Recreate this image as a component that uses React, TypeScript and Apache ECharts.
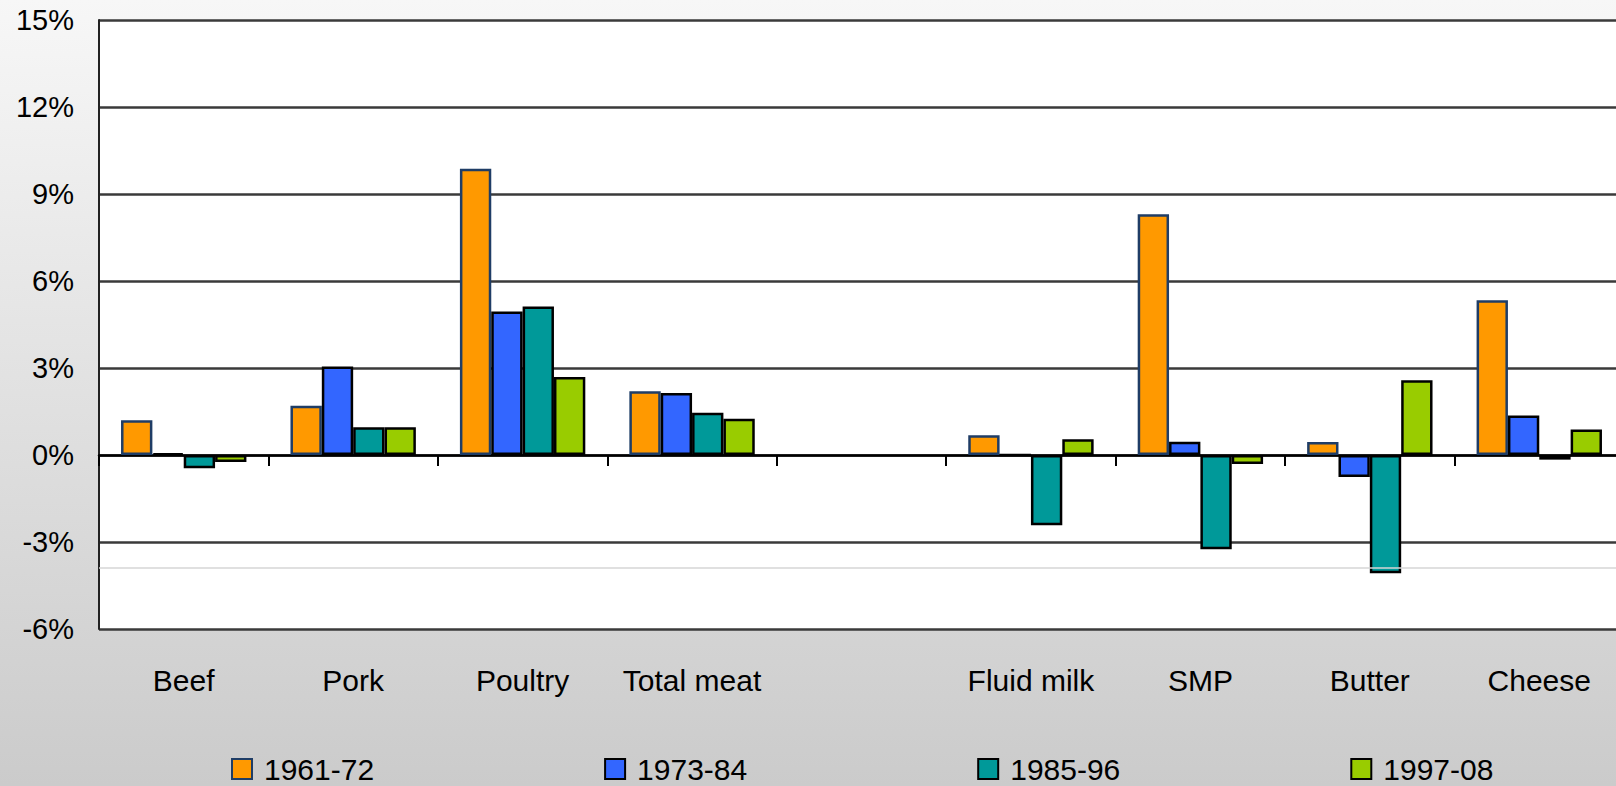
import React, { useEffect, useRef } from "react";
import * as echarts from "echarts";

// Product groups; the empty slot separates meat from dairy.
const categories = ["Beef", "Pork", "Poultry", "Total meat", "", "Fluid milk", "SMP", "Butter", "Cheese"];
const periods = ["1961-72", "1973-84", "1985-96", "1997-08"];

// Average annual growth rates (%) by period
const growth1961 = [1.2, 1.7, 9.87, 2.2, null, 0.68, 8.3, 0.45, 5.34];
const growth1973 = [0.06, 3.05, 4.95, 2.14, null, 0, 0.46, -0.76, 1.36];
const growth1985 = [-0.46, 0.96, 5.12, 1.46, null, -2.42, -3.25, -4.08, -0.16];
const growth1997 = [-0.24, 0.96, 2.69, 1.25, null, 0.54, -0.31, 2.58, 0.88];

const yTicks = { min: -6, max: 15, interval: 3 };
const faintLineValue = -3.9;

const seriesValues = [growth1961, growth1973, growth1985, growth1997];
const fills = ["#FF9900", "#3366FF", "#009999", "#99CC00"];
const borders = ["#1F3D66", "#000000", "#000000", "#000000"];

const FONT = "'Liberation Sans', Arial, sans-serif";

export default function App() {
  const ref = useRef<HTMLDivElement>(null);

  useEffect(() => {
    if (!ref.current) return;
    const chart = echarts.init(ref.current, undefined, { renderer: "svg" });

    const series = periods.map((name, i) => ({
      name,
      type: "bar",
      xAxisIndex: 0,
      data: seriesValues[i],
      barGap: "0%",
      barCategoryGap: "26%",
      itemStyle: { color: fills[i], borderColor: borders[i], borderWidth: 2.5 },
      ...(i === 2
        ? {
            markLine: {
              silent: true,
              symbol: "none",
              label: { show: false },
              lineStyle: { color: "#d6d6d6", width: 1.5, type: "solid" },
              data: [{ yAxis: faintLineValue }],
            },
          }
        : {}),
    }));

    chart.setOption({
      animation: false,
      backgroundColor: {
        type: "linear",
        x: 0,
        y: 0,
        x2: 0,
        y2: 1,
        colorStops: [
          { offset: 0, color: "#f7f7f7" },
          { offset: 1, color: "#cbcbcb" },
        ],
      },
      // The plot area runs slightly past the visible right edge.
      grid: {
        left: 99,
        right: 0,
        top: 20,
        bottom: 157,
        show: true,
        backgroundColor: "#ffffff",
        borderWidth: 0,
      },
      legend: {
        data: periods,
        left: 226,
        top: 749,
        icon: "rect",
        itemWidth: 20,
        itemHeight: 20,
        itemGap: 230,
        textStyle: { fontSize: 30, color: "#000", fontFamily: FONT, padding: [0, 0, 0, 7] },
      },
      xAxis: [
        {
          type: "category",
          data: categories,
          position: "bottom",
          axisLine: { onZero: true, lineStyle: { color: "#000", width: 2.5 } },
          axisTick: { show: true, length: 11, lineStyle: { color: "#000", width: 2 } },
          axisLabel: { show: false },
        },
        {
          type: "category",
          data: categories,
          position: "bottom",
          axisLine: { show: false, onZero: false },
          axisTick: { show: false },
          axisLabel: {
            show: true,
            interval: 0,
            margin: 36,
            fontSize: 30,
            color: "#000",
            fontFamily: FONT,
          },
        },
      ],
      yAxis: {
        type: "value",
        min: yTicks.min,
        max: yTicks.max,
        interval: yTicks.interval,
        axisLine: { show: true, lineStyle: { color: "#222", width: 2 } },
        axisTick: { show: false },
        axisLabel: {
          margin: 25,
          fontSize: 29,
          color: "#000",
          fontFamily: FONT,
          formatter: (v: number) => `${v}%`,
        },
        splitLine: { show: true, lineStyle: { color: "#3a3a3a", width: 2.5 } },
      },
      series,
    });

    return () => chart.dispose();
  }, []);

  return (
    <div
      style={{
        position: "absolute",
        left: 0,
        top: 0,
        width: 1616,
        height: 786,
        overflow: "hidden",
      }}
    >
      <div ref={ref} style={{ width: 1624, height: 786 }} />
    </div>
  );
}
